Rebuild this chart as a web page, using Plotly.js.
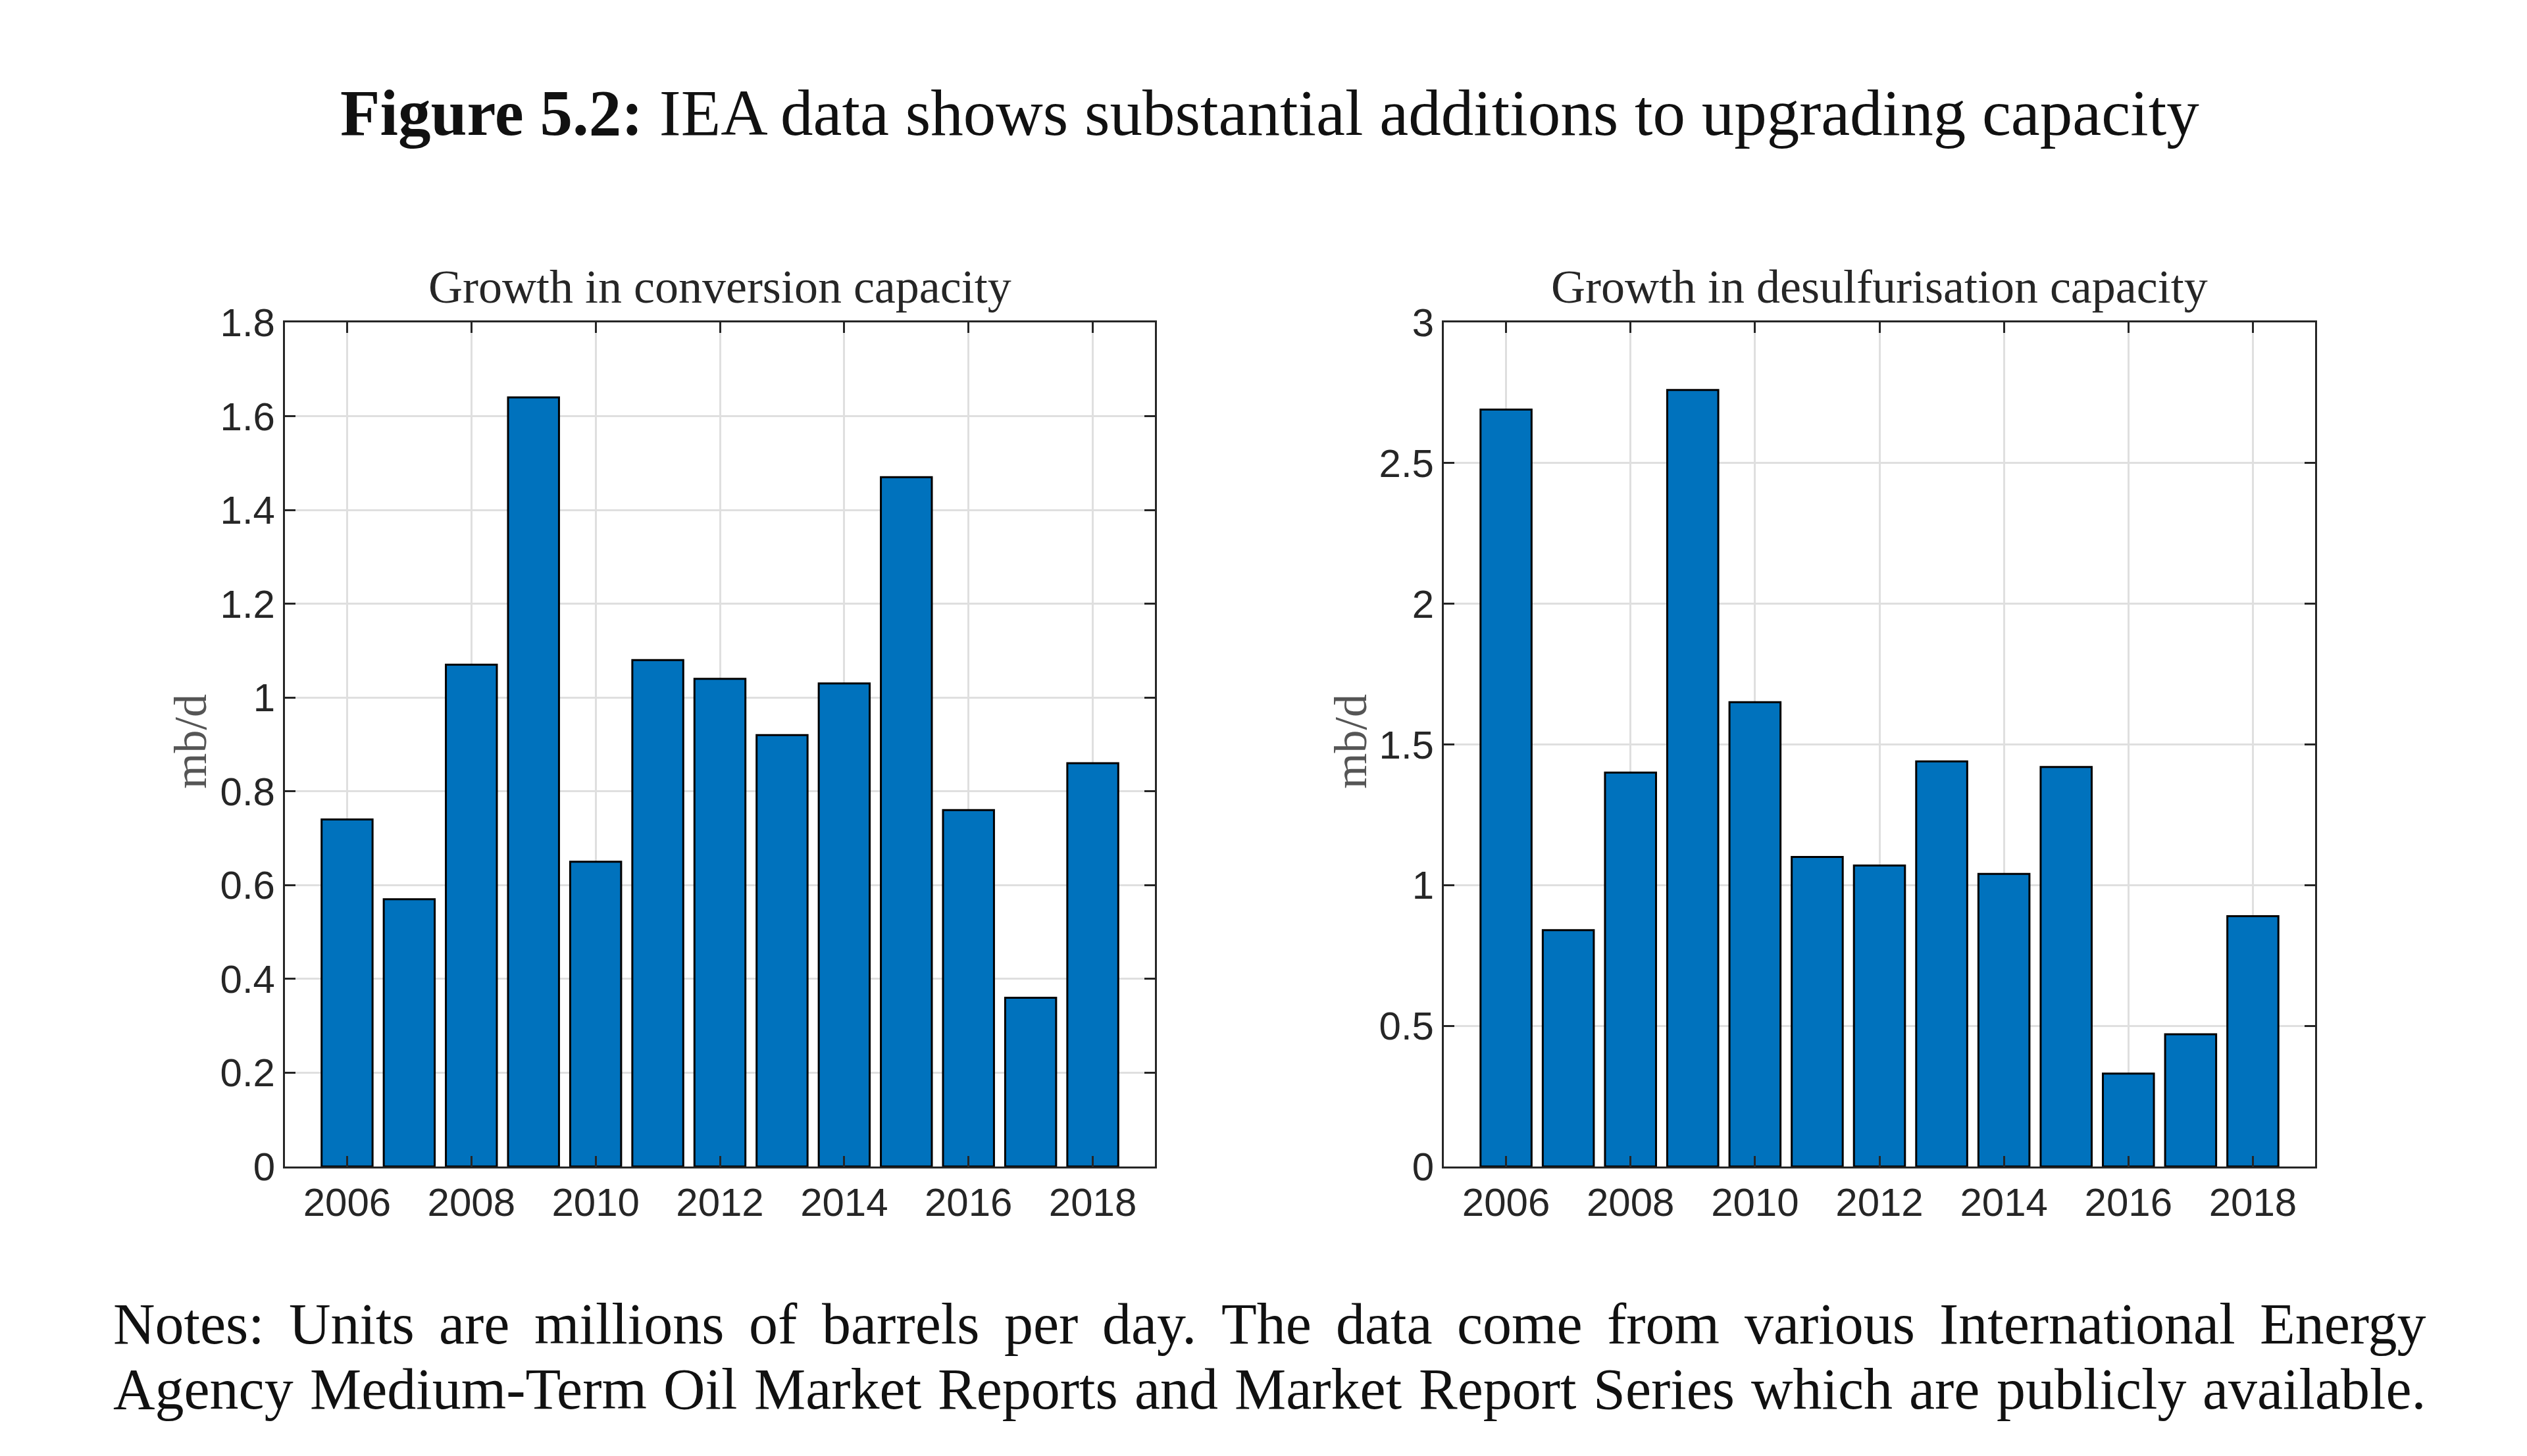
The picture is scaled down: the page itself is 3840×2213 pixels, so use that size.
<!DOCTYPE html>
<html>
<head>
<meta charset="utf-8">
<script src="https://cdn.plot.ly/plotly-3.0.1.min.js"></script>
<style>
  html, body { margin: 0; padding: 0; background: #ffffff; }
  #chart { width: 3840px; height: 2213px; }
</style>
</head>
<body>
<div id="chart"></div>
<script>
// ---- data ----
const years = [2006, 2007, 2008, 2009, 2010, 2011, 2012, 2013, 2014, 2015, 2016, 2017, 2018];
const conversion = [0.74, 0.57, 1.07, 1.64, 0.65, 1.08, 1.04, 0.92, 1.03, 1.47, 0.76, 0.36, 0.86];
const desulfurisation = [2.69, 0.84, 1.40, 2.76, 1.65, 1.10, 1.07, 1.44, 1.04, 1.42, 0.33, 0.47, 0.89];
const xTickVals = [2006, 2008, 2010, 2012, 2014, 2016, 2018];
const xTickText = ['2006', '2008', '2010', '2012', '2014', '2016', '2018'];
const leftYTicks = [0, 0.2, 0.4, 0.6, 0.8, 1, 1.2, 1.4, 1.6, 1.8];
const rightYTicks = [0, 0.5, 1, 1.5, 2, 2.5, 3];
const figureLabel = 'Figure 5.2:';
const figureTitle = 'IEA data shows substantial additions to upgrading capacity';
const leftTitle = 'Growth in conversion capacity';
const rightTitle = 'Growth in desulfurisation capacity';
const yLabel = 'mb/d';
const notesLines = [
  'Notes: Units are millions of barrels per day. The data come from various International Energy',
  'Agency Medium-Term Oil Market Reports and Market Report Series which are publicly available.'
];

// ---- style ----
const W = 3840, H = 2213;
const barColor = '#0072BD';
const axisColor = '#262626';
const gridColor = '#dfdfdf';
const serif = '"Liberation Serif", "Times New Roman", serif';
const sans = '"Liberation Sans", Arial, sans-serif';

function xAxis(domain, anchor) {
  return {
    domain: domain, anchor: anchor, range: [2005, 2019],
    tickvals: xTickVals, ticktext: xTickText,
    showline: true, linecolor: axisColor, linewidth: 3, mirror: 'ticks',
    ticks: 'inside', ticklen: 16, tickwidth: 3, tickcolor: axisColor,
    showgrid: true, gridcolor: gridColor, gridwidth: 3,
    zeroline: false, fixedrange: true,
    tickfont: {family: sans, size: 60, color: axisColor}
  };
}
function yAxis(domain, anchor, range, ticks) {
  return {
    domain: domain, anchor: anchor, range: range,
    tickvals: ticks,
    showline: true, linecolor: axisColor, linewidth: 3, mirror: 'ticks',
    ticks: 'inside', ticklen: 16, tickwidth: 3, tickcolor: axisColor,
    showgrid: true, gridcolor: gridColor, gridwidth: 3,
    zeroline: false, fixedrange: true,
    tickfont: {family: sans, size: 60, color: axisColor}
  };
}

const xL = [433 / W, 1755 / W];
const xR = [2194 / W, 3518 / W];
const yD = [1 - 1773 / H, 1 - 490 / H];

const traces = [
  {type: 'bar', x: years, y: conversion, xaxis: 'x', yaxis: 'y', width: 0.82,
   marker: {color: barColor, line: {color: '#000000', width: 3}}, hoverinfo: 'x+y'},
  {type: 'bar', x: years, y: desulfurisation, xaxis: 'x2', yaxis: 'y2', width: 0.82,
   marker: {color: barColor, line: {color: '#000000', width: 3}}, hoverinfo: 'x+y'}
];

const annotations = [
  {xref: 'paper', yref: 'paper', x: 1930 / W, y: 1 - 171 / H, xanchor: 'center', yanchor: 'middle',
   text: '<b>' + figureLabel + '</b> ' + figureTitle, showarrow: false,
   font: {family: serif, size: 99, color: '#111111'}},
  {xref: 'paper', yref: 'paper', x: (xL[0] + xL[1]) / 2, y: 1 - 436 / H, xanchor: 'center', yanchor: 'middle',
   text: leftTitle, showarrow: false, font: {family: serif, size: 72, color: axisColor}},
  {xref: 'paper', yref: 'paper', x: (xR[0] + xR[1]) / 2, y: 1 - 436 / H, xanchor: 'center', yanchor: 'middle',
   text: rightTitle, showarrow: false, font: {family: serif, size: 72, color: axisColor}},
  {xref: 'paper', yref: 'paper', x: 289 / W, y: 1 - 1127 / H, xanchor: 'center', yanchor: 'middle',
   text: yLabel, textangle: -90, showarrow: false, font: {family: serif, size: 70, color: '#555555'}},
  {xref: 'paper', yref: 'paper', x: 2052 / W, y: 1 - 1127 / H, xanchor: 'center', yanchor: 'middle',
   text: yLabel, textangle: -90, showarrow: false, font: {family: serif, size: 70, color: '#555555'}}
];

// justified notes: measure words and spread them over the text width
const notesLeft = 171, notesRight = 3686, notesSize = 88;
const notesY = [2013, 2111];
const ctx = document.createElement('canvas').getContext('2d');
ctx.font = notesSize + 'px "Liberation Serif"';
notesLines.forEach(function (line, li) {
  const words = line.split(' ');
  const widths = words.map(function (w) { return ctx.measureText(w).width; });
  const total = widths.reduce(function (a, b) { return a + b; }, 0);
  const gap = (notesRight - notesLeft - total) / (words.length - 1);
  let pos = notesLeft;
  words.forEach(function (w, i) {
    annotations.push({xref: 'paper', yref: 'paper', x: pos / W, y: 1 - notesY[li] / H,
      xanchor: 'left', yanchor: 'middle', text: w, showarrow: false,
      borderpad: 0, font: {family: serif, size: notesSize, color: '#111111'}});
    pos += widths[i] + gap;
  });
});

const layout = {
  width: W, height: H,
  margin: {l: 0, r: 0, t: 0, b: 0},
  paper_bgcolor: '#ffffff', plot_bgcolor: '#ffffff',
  showlegend: false, bargap: 0,
  xaxis: xAxis(xL, 'y'), yaxis: yAxis(yD, 'x', [0, 1.8], leftYTicks),
  xaxis2: xAxis(xR, 'y2'), yaxis2: yAxis(yD, 'x2', [0, 3], rightYTicks),
  annotations: annotations
};

Plotly.newPlot('chart', traces, layout, {displayModeBar: false, staticPlot: true});
</script>
</body>
</html>
